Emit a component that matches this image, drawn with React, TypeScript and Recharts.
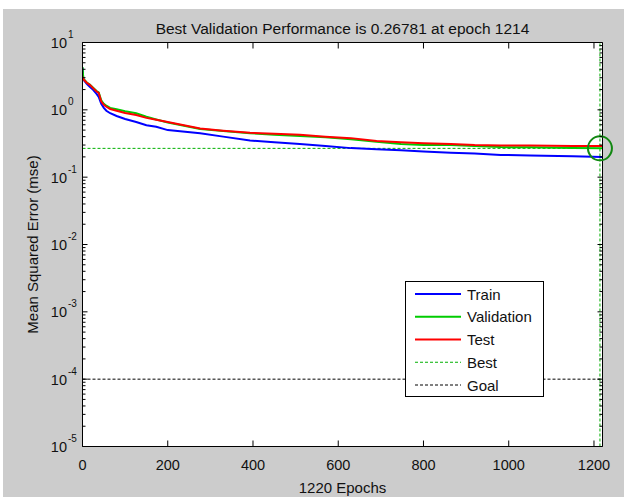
import React from 'react';
import { LineChart, Line, XAxis, YAxis, ReferenceLine, ReferenceDot, CartesianGrid, Legend } from 'recharts';

// ---- data ----
const epochs = [0, 2, 10, 17, 25, 33, 38, 44, 50, 56, 65, 80, 100, 126, 150, 173, 200, 276, 330, 393, 450, 510, 570, 630, 690, 747, 800, 864, 920, 981, 1050, 1150, 1220];
const trainMse = [4.2, 2.8, 2.43, 2.2, 1.98, 1.73, 1.56, 1.23, 1.07, 0.97, 0.89, 0.81, 0.73, 0.66, 0.59, 0.56, 0.5, 0.45, 0.4, 0.35, 0.33, 0.31, 0.29, 0.27, 0.26, 0.25, 0.24, 0.23, 0.225, 0.214, 0.21, 0.204, 0.2];
const validationMse = [4.3, 2.9, 2.55, 2.38, 2.13, 1.9, 1.82, 1.38, 1.23, 1.15, 1.07, 1.02, 0.95, 0.89, 0.79, 0.72, 0.65, 0.52, 0.485, 0.45, 0.425, 0.41, 0.39, 0.365, 0.335, 0.31, 0.3, 0.3, 0.29, 0.28, 0.277, 0.27, 0.268];
const testMse = [3.1, 2.85, 2.52, 2.35, 2.1, 1.87, 1.79, 1.33, 1.19, 1.11, 1.03, 0.97, 0.9, 0.84, 0.76, 0.71, 0.66, 0.53, 0.49, 0.455, 0.44, 0.425, 0.4, 0.38, 0.345, 0.33, 0.32, 0.31, 0.3, 0.296, 0.296, 0.29, 0.29];

const bestEpoch = 1214;
const bestPerf = 0.26781;
const goalMse = 1e-4;
const maxEpoch = 1220;

const xTicks = [0, 200, 400, 600, 800, 1000, 1200];
const yDecades = [1e-5, 1e-4, 1e-3, 1e-2, 1e-1, 1, 10];
const yExponents = ['-5', '-4', '-3', '-2', '-1', '0', '1'];
const minorMultipliers = [2, 3, 4, 5, 6, 7, 8, 9];

const titleText = 'Best Validation Performance is 0.26781 at epoch 1214';
const xLabelText = '1220 Epochs';
const yLabelText = 'Mean Squared Error  (mse)';

const legendItems = [
  { name: 'Train', color: '#0000ff', dashed: false },
  { name: 'Validation', color: '#00cc00', dashed: false },
  { name: 'Test', color: '#ff0000', dashed: false },
  { name: 'Best', color: '#00b000', dashed: true },
  { name: 'Goal', color: '#000000', dashed: true },
];

// ---- derived tables ----
const tableData = epochs.map((e, i) => ({
  epoch: e,
  train: trainMse[i],
  validation: validationMse[i],
  test: testMse[i],
}));

const yAllTicks: number[] = [];
yDecades.forEach((d, i) => {
  yAllTicks.push(d);
  if (i < yDecades.length - 1) minorMultipliers.forEach((m) => yAllTicks.push(m * d));
});

const FONT = '"Liberation Sans", Arial, Helvetica, sans-serif';
const TXT = '#111';

const decadeIndex = (v: number) => yDecades.findIndex((d) => Math.abs(d - v) / d < 1e-6);

const LeftTick = (props: any) => {
  const { x, y, payload } = props;
  const idx = decadeIndex(payload.value);
  const major = idx >= 0;
  return (
    <g>
      <line x1={x} x2={x + (major ? 5 : 3)} y1={y} y2={y} stroke="#000" strokeWidth={1} />
      {major && (
        <g fontFamily={FONT} fill={TXT}>
          <text x={x - 15.5} y={y + 5.5} textAnchor="end" fontSize={14.5}>10</text>
          <text x={x - 14.5} y={y - 4.5} textAnchor="start" fontSize={10}>{yExponents[idx]}</text>
        </g>
      )}
    </g>
  );
};

const RightTick = (props: any) => {
  const { x, y, payload } = props;
  const major = decadeIndex(payload.value) >= 0;
  return <line x1={x} x2={x - (major ? 5 : 3)} y1={y} y2={y} stroke="#000" strokeWidth={1} />;
};

const BottomTick = (props: any) => {
  const { x, y, payload } = props;
  return (
    <g>
      <line x1={x} x2={x} y1={y} y2={y - 6} stroke="#000" strokeWidth={1} />
      <text x={x} y={y + 23} textAnchor="middle" fontSize={14.5} fontFamily={FONT} fill={TXT}>
        {payload.value}
      </text>
    </g>
  );
};

const TopTick = (props: any) => {
  const { x, y } = props;
  return <line x1={x} x2={x} y1={y} y2={y + 6} stroke="#000" strokeWidth={1} />;
};

const TitleLabel = (props: any) => {
  const vb = props.viewBox || {};
  return (
    <text x={vb.x + vb.width / 2} y={vb.y - 7.5} textAnchor="middle" fontSize={15.5} fontFamily={FONT} fill={TXT}>
      {titleText}
    </text>
  );
};

const XLabel = (props: any) => {
  const vb = props.viewBox || {};
  return (
    <text x={vb.x + vb.width / 2} y={vb.y + 46} textAnchor="middle" fontSize={15} fontFamily={FONT} fill={TXT}>
      {xLabelText}
    </text>
  );
};

const YLabel = (props: any) => {
  const vb = props.viewBox || {};
  const cx = vb.x + 38;
  const cy = vb.y + vb.height / 2;
  return (
    <text x={cx} y={cy} transform={`rotate(-90, ${cx}, ${cy})`} textAnchor="middle" fontSize={15} fontFamily={FONT} fill={TXT}>
      {yLabelText}
    </text>
  );
};

const LegendBox = () => (
  <div style={{ width: 139, height: 116, border: '1px solid #000', background: '#fff', boxSizing: 'border-box' }}>
    <svg width={137} height={114}>
      {legendItems.map((it, i) => {
        const yy = 12 + i * 22.75;
        return (
          <g key={it.name}>
            <line
              x1={9}
              x2={55}
              y1={yy}
              y2={yy}
              stroke={it.color}
              strokeWidth={it.dashed ? 1 : 2}
              strokeDasharray={it.dashed ? '3 2' : undefined}
            />
            <text x={61} y={yy + 5.5} fontSize={15} fontFamily={FONT} fill={TXT}>
              {it.name}
            </text>
          </g>
        );
      })}
    </svg>
  </div>
);

export default function App() {
  return (
    <div style={{ position: 'absolute', left: 0, top: 0, width: 624, height: 497, background: '#fff' }}>
      <div style={{ position: 'absolute', left: 3, top: 9, width: 621, height: 488, background: '#cccccc' }} />
      <div style={{ position: 'absolute', left: 0, top: 0 }}>
        <LineChart
          width={624}
          height={497}
          data={tableData}
          margin={{ top: 41.5, right: 20.5, bottom: 0, left: 0 }}
        >
          <CartesianGrid fill="#ffffff" horizontal={false} vertical={false} />
          <XAxis
            dataKey="epoch"
            type="number"
            domain={[0, maxEpoch]}
            allowDataOverflow
            ticks={xTicks}
            interval={0}
            height={50.5}
            tickSize={0}
            tickMargin={0}
            tickLine={false}
            axisLine={{ stroke: '#000' }}
            tick={<BottomTick />}
            label={<XLabel />}
          />
          <XAxis
            xAxisId="top"
            orientation="top"
            dataKey="epoch"
            type="number"
            domain={[0, maxEpoch]}
            allowDataOverflow
            ticks={xTicks}
            interval={0}
            height={1}
            tickSize={0}
            tickMargin={0}
            tickLine={false}
            axisLine={{ stroke: '#000' }}
            tick={<TopTick />}
            label={<TitleLabel />}
          />
          <YAxis
            scale="log"
            type="number"
            domain={[1e-5, 10]}
            allowDataOverflow
            ticks={yAllTicks}
            interval={0}
            width={82.5}
            tickSize={0}
            tickMargin={0}
            tickLine={false}
            axisLine={{ stroke: '#000' }}
            tick={<LeftTick />}
            label={<YLabel />}
          />
          <YAxis
            yAxisId="right"
            orientation="right"
            scale="log"
            type="number"
            domain={[1e-5, 10]}
            allowDataOverflow
            ticks={yAllTicks}
            interval={0}
            width={1}
            tickSize={0}
            tickMargin={0}
            tickLine={false}
            axisLine={{ stroke: '#000' }}
            tick={<RightTick />}
          />
          <ReferenceLine y={goalMse} stroke="#000" strokeWidth={1} strokeDasharray="3 2" />
          <ReferenceLine y={bestPerf} stroke="#00b000" strokeWidth={1} strokeDasharray="3 2" />
          <ReferenceLine x={bestEpoch} stroke="#00b000" strokeWidth={1} strokeDasharray="3 2" />
          <Line dataKey="train" stroke="#0000ff" strokeWidth={2} dot={false} isAnimationActive={false} />
          <Line dataKey="validation" stroke="#00cc00" strokeWidth={2} dot={false} isAnimationActive={false} />
          <Line dataKey="test" stroke="#ff0000" strokeWidth={2} dot={false} isAnimationActive={false} />
          <ReferenceDot
            x={bestEpoch}
            y={bestPerf}
            r={12}
            fill="none"
            stroke="#118811"
            strokeWidth={2}
            ifOverflow="visible"
          />
          <Legend
            layout="vertical"
            align="center"
            verticalAlign="middle"
            content={() => <LegendBox />}
            wrapperStyle={{ position: 'absolute', left: 405, top: 281, width: 139, height: 116, margin: 0 }}
          />
        </LineChart>
      </div>
    </div>
  );
}
